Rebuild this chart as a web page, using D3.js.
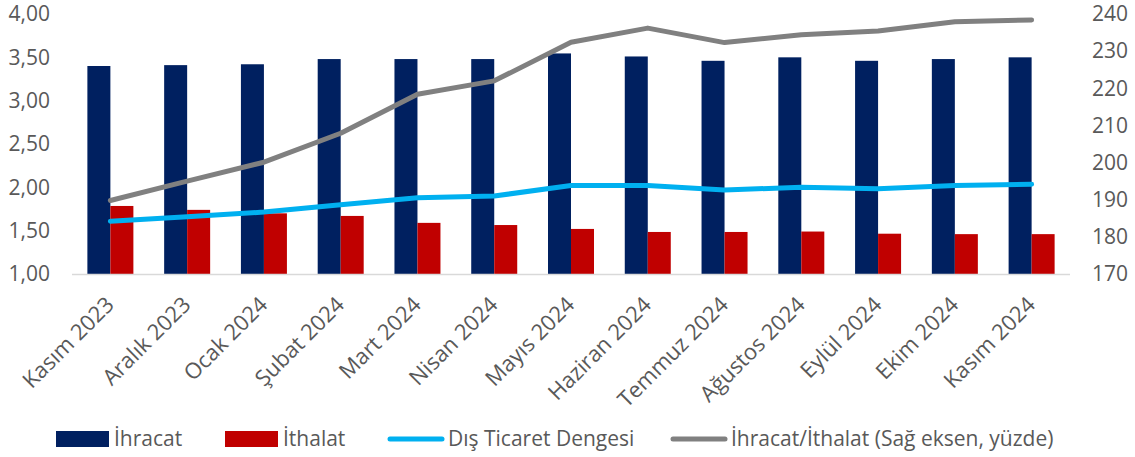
<!DOCTYPE html>
<html lang="tr">
  <head>
    <meta charset="utf-8" />
    <title>Dış Ticaret</title>
    <script src="https://d3js.org/d3.v7.min.js"></script>
    <style>
      body {
        margin: 0;
        background: #fff;
      }
      svg {
        display: block;
      }
      text {
        font-family: 'Open Sans', sans-serif;
      }
      .tick text, .legend text {
        fill: #595959;
      }
      .line {
        fill: none;
        stroke-width: 5;
        stroke-linecap: round;
        stroke-linejoin: round;
      }
    </style>
  </head>
  <body>
    <svg width="1135" height="457"></svg>
    <script>

    var months = ["Kasım 2023", "Aralık 2023", "Ocak 2024", "Şubat 2024", "Mart 2024", "Nisan 2024",
                  "Mayıs 2024", "Haziran 2024", "Temmuz 2024", "Ağustos 2024", "Eylül 2024", "Ekim 2024", "Kasım 2024"];
    var ihracat = [3.40, 3.41, 3.42, 3.48, 3.48, 3.48, 3.545, 3.51, 3.46, 3.50, 3.46, 3.48, 3.50];
    var ithalat = [1.785, 1.74, 1.70, 1.67, 1.59, 1.565, 1.52, 1.485, 1.485, 1.49, 1.465, 1.46, 1.46];
    var denge = [1.61, 1.66, 1.715, 1.80, 1.88, 1.90, 2.02, 2.02, 1.97, 2.00, 1.985, 2.02, 2.035];
    var oran = [189.8, 195.0, 200.1, 207.9, 218.4, 222.0, 232.4, 236.2, 232.3, 234.4, 235.4, 237.9, 238.4];

    var leftTicks = [1, 1.5, 2, 2.5, 3, 3.5, 4];
    var rightTicks = [170, 180, 190, 200, 210, 220, 230, 240];

    var svg = d3.select("svg");

    var colours = {ihracat: "#002060", ithalat: "#C00000", denge: "#00B0F0", oran: "#808080"};

    var x = d3.scaleBand().domain(months).range([72, 1070]).padding(0),
        yL = d3.scaleLinear().domain([1, 4]).range([274, 14]),
        yR = d3.scaleLinear().domain([170, 240]).range([274, 14]);

    var barW = 23;
    function cx(i) { return x(months[i]) + x.bandwidth() / 2; }

    var fmt = function(d) { return d3.format(".2f")(d).replace(".", ","); };

    // left axis
    var gl = svg.append("g")
        .attr("transform", "translate(58,0)")
        .call(d3.axisLeft(yL).tickValues(leftTicks).tickFormat(fmt).tickSize(0).tickPadding(8));
    gl.select(".domain").remove();
    gl.selectAll("text").style("font-size", "21px");

    // right axis
    var gr = svg.append("g")
        .attr("transform", "translate(1084,0)")
        .call(d3.axisRight(yR).tickValues(rightTicks).tickSize(0).tickPadding(8));
    gr.select(".domain").remove();
    gr.selectAll("text").style("font-size", "21px");

    // bars
    svg.append("g").selectAll("rect")
        .data(ihracat)
        .enter().append("rect")
        .attr("x", function(d, i) { return cx(i) - barW; })
        .attr("y", function(d) { return yL(d); })
        .attr("width", barW)
        .attr("height", function(d) { return yL(1) - yL(d); })
        .attr("fill", colours.ihracat);

    svg.append("g").selectAll("rect")
        .data(ithalat)
        .enter().append("rect")
        .attr("x", function(d, i) { return cx(i); })
        .attr("y", function(d) { return yL(d); })
        .attr("width", barW)
        .attr("height", function(d) { return yL(1) - yL(d); })
        .attr("fill", colours.ithalat);

    // baseline
    svg.append("line")
        .attr("x1", x.range()[0]).attr("x2", x.range()[1])
        .attr("y1", yL(1) + 0.5).attr("y2", yL(1) + 0.5)
        .attr("stroke", "#d9d9d9").attr("stroke-width", 1.5);

    // x labels
    var gx = svg.append("g")
        .attr("transform", "translate(0," + yL(1) + ")")
        .call(d3.axisBottom(x).tickSize(0).tickPadding(0));
    gx.select(".domain").remove();
    gx.selectAll("text")
        .style("font-size", "22px")
        .style("text-anchor", "end")
        .attr("y", 0)
        .attr("dy", "0")
        .attr("transform", "translate(5,32) rotate(-45)");

    // lines
    var lineL = d3.line().x(function(d, i) { return cx(i); }).y(function(d) { return yL(d); });
    var lineR = d3.line().x(function(d, i) { return cx(i); }).y(function(d) { return yR(d); });

    svg.append("path").attr("class", "line")
        .attr("d", lineL(denge))
        .attr("stroke", colours.denge);

    svg.append("path").attr("class", "line")
        .attr("d", lineR(oran))
        .attr("stroke", colours.oran);

    // legend
    var legendItems = [
      {label: "İhracat", key: "ihracat", type: "rect", x: 56},
      {label: "İthalat", key: "ithalat", type: "rect", x: 225},
      {label: "Dış Ticaret Dengesi", key: "denge", type: "line", x: 388},
      {label: "İhracat/İthalat (Sağ eksen, yüzde)", key: "oran", type: "line", x: 671}
    ];

    var legend = svg.append("g").attr("class", "legend");
    var li = legend.selectAll("g")
        .data(legendItems)
        .enter().append("g")
        .attr("transform", function(d) { return "translate(" + d.x + ",439)"; });

    li.filter(function(d) { return d.type == "rect"; })
        .append("rect")
        .attr("x", 0).attr("y", -8)
        .attr("width", 53).attr("height", 16)
        .attr("fill", function(d) { return colours[d.key]; });

    li.filter(function(d) { return d.type == "line"; })
        .append("line")
        .attr("x1", 2).attr("x2", 54)
        .attr("y1", 0).attr("y2", 0)
        .attr("stroke-width", 5)
        .attr("stroke-linecap", "round")
        .attr("stroke", function(d) { return colours[d.key]; });

    li.append("text")
        .attr("x", function(d) { return d.type == "rect" ? 58 : 60; })
        .attr("y", 7)
        .style("font-size", "21px")
        .text(function(d) { return d.label; });

    </script>
  </body>
</html>
